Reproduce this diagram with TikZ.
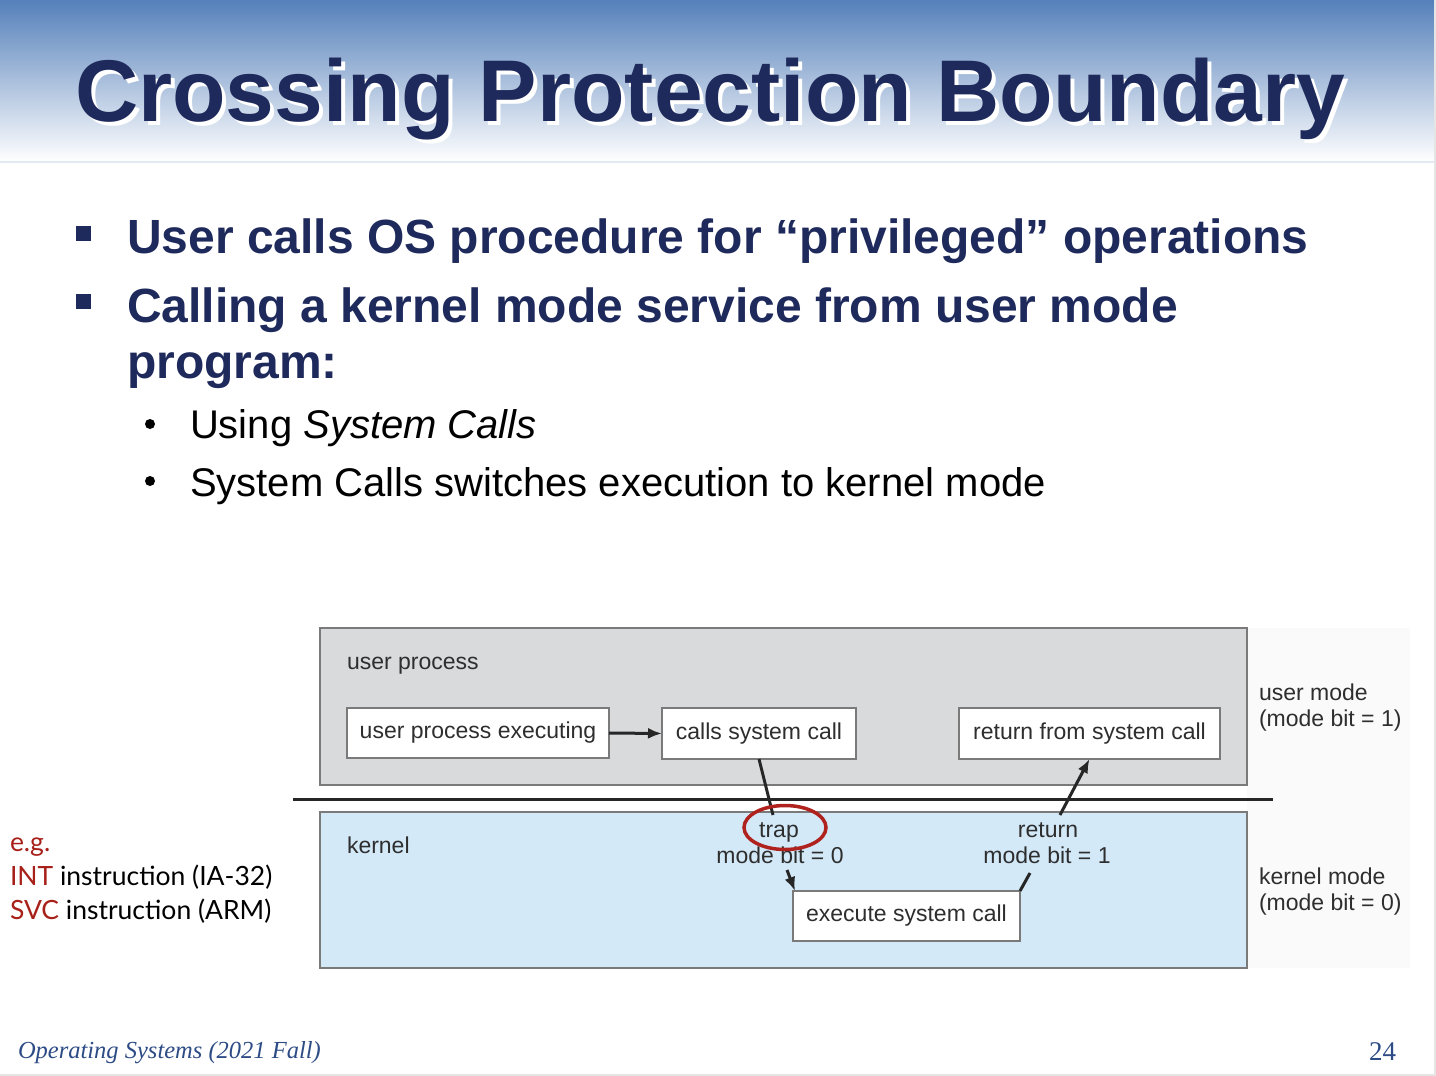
\documentclass[tikz,border=0pt]{standalone}
\usepackage{fontspec}
\setmainfont{Liberation Sans}
\newfontfamily\gillfont{Lato}
\newfontfamily\footfont{Liberation Serif}
\usetikzlibrary{arrows.meta}

\definecolor{titlenavy}{HTML}{1F2A5C}
\definecolor{hdrblue}{HTML}{5580BA}
\definecolor{hdrmid}{HTML}{93A9CC}
\definecolor{hdrline}{HTML}{E3E9F2}
\definecolor{userfill}{HTML}{D9DADC}
\definecolor{kernfill}{HTML}{D3E9F8}
\definecolor{framegray}{HTML}{7A7A7A}
\definecolor{figtext}{HTML}{2E2E2E}
\definecolor{trapred}{HTML}{B0221E}
\definecolor{egred}{HTML}{A8201A}
\definecolor{footblue}{HTML}{2D4B85}

\newcommand\fsz[1]{\fontsize{#1}{#1}\selectfont}
% text with a white copy offset down and to the right behind it
\newcommand\shadowed[1]{\makebox[0pt][l]{\hspace{4pt}\raisebox{-4pt}{\textcolor{white}{#1}}}#1}

\begin{document}
\begin{tikzpicture}[x=1pt,y=-1pt,
  every node/.style={inner sep=0pt, outer sep=0pt},
  procbox/.style={draw=framegray, line width=1.3pt, fill=white, text=figtext, font=\fsz{23}},
  figlabel/.style={text=figtext, font=\fsz{23}},
  flow/.style={draw=black!85, line width=3pt},
  flowarrow/.style={flow, -{Latex[length=14pt,width=11pt]}},
  bullettext/.style={anchor=base west, text=titlenavy, font=\bfseries\fsz{48}},
  subtext/.style={anchor=base west, text=black, font=\fsz{40}},
  egtext/.style={anchor=base west, text=black, font=\gillfont\fsz{26.5}},
]
\useasboundingbox (0,0) rectangle (1436,1076);
\fill[white] (0,0) rectangle (1436,1076);

% header band
\shade[top color=hdrblue, middle color=hdrmid, bottom color=white] (0,0) rectangle (1436,162);
\draw[hdrline, line width=1.5pt] (0,162) -- (1436,162);

% title
\node[anchor=base west, text=titlenavy, font=\bfseries\fsz{87.6}] (title) at (75,121) {\shadowed{Crossing Protection Boundary}};

% bullets
\fill[titlenavy] (76,226) rectangle (91,241);
\fill[titlenavy] (76,294) rectangle (91,309);
\node[bullettext] (b1) at (127,253) {User calls OS procedure for “privileged” operations};
\node[bullettext] (b2) at (127,322) {Calling a kernel mode service from user mode};
\node[bullettext] (b2b) at (127,378) {program:};
\fill[black] (150,424) circle (5);
\fill[black] (150,481) circle (5);
\node[subtext] (s1) at (190,438) {Using \textit{System Calls}};
\node[subtext] (s2) at (190,496) {System Calls switches execution to kernel mode};

% diagram: faint backdrop of the pasted figure
\fill[black!2] (1247,628) rectangle (1410,968);

% mode regions
\draw[framegray, line width=1.5pt, fill=userfill] (320,628) rectangle (1247,785);
\draw[framegray, line width=1.5pt, fill=kernfill] (320,812) rectangle (1247,968);
\draw[black!85, line width=3pt] (293,799) -- (1273,799);

\node[figlabel, anchor=base west] (userlbl) at (347,669) {user process};
\node[figlabel, anchor=base west] (kernlbl) at (347,853) {kernel};
\node[figlabel, anchor=base west] (um1) at (1259,700) {user mode};
\node[figlabel, anchor=base west] (um2) at (1259,726) {(mode bit = 1)};
\node[figlabel, anchor=base west] (km1) at (1259,884) {kernel mode};
\node[figlabel, anchor=base west] (km2) at (1259,910) {(mode bit = 0)};

% process steps
\node[procbox, minimum width=262pt, minimum height=50pt] (upe) at (478,733) {user process executing};
\node[procbox, minimum width=194pt, minimum height=51pt] (csc) at (759,733.5) {calls system call};
\node[procbox, minimum width=261pt, minimum height=51pt] (rfs) at (1089.5,733.5) {return from system call};
\node[procbox, minimum width=227pt, minimum height=50pt] (esc) at (906.5,916) {execute system call};

% transition labels
\node[figlabel, anchor=base] (trap) at (779,837) {trap};
\node[figlabel, anchor=base] (trapbit) at (780,863) {mode bit = 0};
\node[figlabel, anchor=base] (ret) at (1048,837) {return};
\node[figlabel, anchor=base] (retbit) at (1047,863) {mode bit = 1};

\coordinate (trapin) at (773,815);
\coordinate (trapout) at (787,870);
\coordinate (retout) at (1030,873);
\coordinate (retin) at (1060,815);

% connectors
\draw[flowarrow] (upe.east) -- (csc.west);
\draw[flow] (csc.south) -- (trapin);
\draw[flowarrow] (trapout) -- ([xshift=2pt]esc.north west);
\draw[flow] (esc.north east) -- (retout);
\draw[flowarrow] (retin) -- (rfs.south);

% highlight of the trap
\draw[trapred, line width=3.5pt] (785,827.5) ellipse (41 and 22);

% instruction examples
\node[egtext, text=egred] (eg) at (10,851) {e.g.};
\node[egtext] (int) at (10,885) {\textcolor{egred}{INT} instruction (IA-32)};
\node[egtext] (svc) at (10,919) {\textcolor{egred}{SVC} instruction (ARM)};

% footer
\node[anchor=base west, text=footblue, font=\footfont\itshape\fsz{24.5}] (course) at (18,1058) {Operating Systems (2021 Fall)};
\node[anchor=base east, text=footblue, font=\footfont\fsz{27}] (pageno) at (1396,1060) {24};

% slide edge
\draw[black!10, line width=2pt] (1435,0) -- (1435,1075) -- (0,1075);
\end{tikzpicture}
\end{document}
